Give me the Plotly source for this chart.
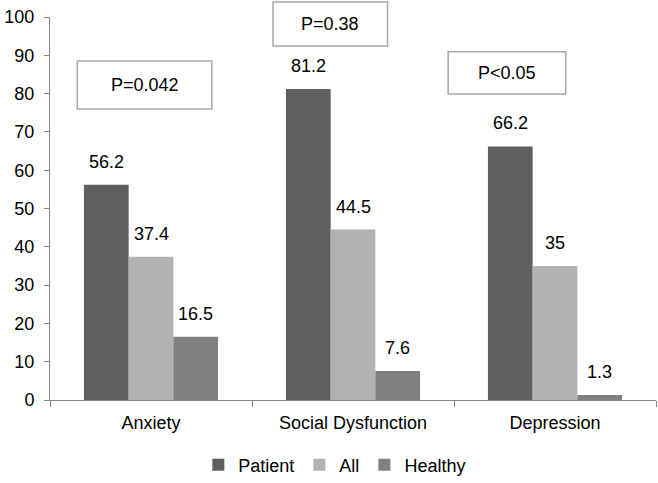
import plotly.graph_objects as go

categories = ["Anxiety", "Social Dysfunction", "Depression"]
patient = [56.2, 81.2, 66.2]
all_vals = [37.4, 44.5, 35]
healthy = [16.5, 7.6, 1.3]
series_names = ["Patient", "All", "Healthy"]
colors = ["#5f5f5f", "#b2b2b2", "#808080"]
p_labels = ["P=0.042", "P=0.38", "P<0.05"]
y_ticks = list(range(0, 101, 10))

FONT = "Liberation Sans, Arial, sans-serif"
FS = 18

fig = go.Figure()
for name, vals, col in zip(series_names, [patient, all_vals, healthy], colors):
    fig.add_trace(go.Bar(
        name=name, x=categories, y=vals, marker=dict(color=col, line=dict(width=0)),
    ))

# value labels above bars
offsets = [-1, 0, 1]
for vals, off in zip([patient, all_vals, healthy], offsets):
    for i, v in enumerate(vals):
        fig.add_annotation(
            x=i + off * 0.221, y=v, xref="x", yref="y",
            text=f"{v:g}", showarrow=False, yshift=23,
            xanchor="center", yanchor="middle",
            font=dict(family=FONT, size=FS, color="#000000"),
        )

# p-value boxes (paper coordinates)
boxes = [
    (0.045, 0.267, 0.760, 0.885),
    (0.368, 0.557, 0.924, 1.039),
    (0.657, 0.851, 0.799, 0.909),
]
for (x0, x1, y0, y1), lab in zip(boxes, p_labels):
    fig.add_shape(type="rect", xref="paper", yref="paper", x0=x0, x1=x1, y0=y0, y1=y1,
                  line=dict(color="#a6a6a6", width=1.5), fillcolor="white", layer="above")
    fig.add_annotation(xref="paper", yref="paper", x=(x0 + x1) / 2, y=(y0 + y1) / 2,
                       xanchor="center", yanchor="middle",
                       text=lab, showarrow=False,
                       font=dict(family=FONT, size=FS, color="#000000"))

fig.update_layout(
    width=658, height=483,
    margin=dict(l=50, r=2, t=17, b=83, autoexpand=False),
    paper_bgcolor="white", plot_bgcolor="white",
    barmode="group", bargap=0.336, bargroupgap=0,
    font=dict(family=FONT, size=FS, color="#000000"),
    showlegend=True,
    legend=dict(orientation="h", x=0.47, xanchor="center", y=-0.17, yanchor="middle",
                font=dict(family=FONT, size=FS), itemwidth=30, traceorder="normal"),
)
fig.update_yaxes(
    range=[0, 100], tickvals=y_ticks, showgrid=False, zeroline=False,
    showline=True, linecolor="#868686", linewidth=1,
    ticks="outside", ticklen=5, tickcolor="#868686", automargin=False,
    tickfont=dict(family=FONT, size=FS), ticklabelstandoff=6,
)
fig.update_xaxes(
    showgrid=False, showline=True, linecolor="#868686", linewidth=1,
    ticks="outside", ticklen=6, tickcolor="#868686", tickson="boundaries",
    automargin=False,
    tickfont=dict(family=FONT, size=FS), ticklabelstandoff=6,
)

fig.write_html("out.html", config={"displayModeBar": False},
               post_script="document.body.style.margin='0px';")
